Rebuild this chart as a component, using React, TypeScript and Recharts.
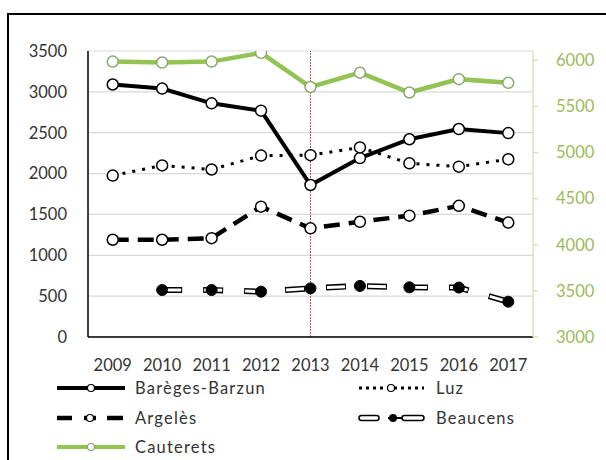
import React from 'react';
import {
  LineChart,
  Line,
  XAxis,
  YAxis,
  CartesianGrid,
  ReferenceLine
} from 'recharts';

const years = ['2009', '2010', '2011', '2012', '2013', '2014', '2015', '2016', '2017'];
const bareges = [3090, 3040, 2860, 2770, 1860, 2190, 2420, 2545, 2495];
const luz = [1975, 2100, 2050, 2220, 2225, 2320, 2125, 2085, 2175];
const argeles = [1190, 1190, 1210, 1595, 1330, 1410, 1485, 1605, 1400];
const beaucens = [null, 575, 575, 555, 595, 625, 608, 605, 432];
const cauterets = [5985, 5975, 5985, 6080, 5710, 5865, 5650, 5795, 5755];

const leftTicks = [0, 500, 1000, 1500, 2000, 2500, 3000, 3500];
const rightTicks = [3000, 3500, 4000, 4500, 5000, 5500, 6000];
// category boundaries, for Excel-style tick marks between the years
const boundaryTicks = years.map((_, i) => i).concat(years.length);

const data = years.map((year, i) => ({
  year,
  bareges: bareges[i],
  luz: luz[i],
  argeles: argeles[i],
  beaucens: beaucens[i],
  cauterets: cauterets[i]
}));

const FONT = 'Lato, "Open Sans", sans-serif';
const GREEN = '#92c353';

const LegendIcon: React.FC<{ kind: string }> = ({ kind }) => {
  const w = 68;
  const h = 14;
  const c = h / 2;
  let body: React.ReactNode = null;
  if (kind === 'bareges') {
    body = (
      <>
        <line x1={0} x2={w} y1={c} y2={c} stroke="#000" strokeWidth={4} />
        <circle cx={34} cy={c} r={3.5} fill="#fff" stroke="#000" strokeWidth={1.2} />
      </>
    );
  } else if (kind === 'argeles') {
    body = (
      <>
        <line x1={0} x2={15} y1={c} y2={c} stroke="#000" strokeWidth={4.5} />
        <line x1={50} x2={66} y1={c} y2={c} stroke="#000" strokeWidth={4.5} />
        <line x1={27} x2={39} y1={c} y2={c} stroke="#000" strokeWidth={4.5} />
        <circle cx={33} cy={c} r={3.5} fill="#fff" stroke="#000" strokeWidth={1.2} />
      </>
    );
  } else if (kind === 'cauterets') {
    body = (
      <>
        <line x1={0} x2={w} y1={c} y2={c} stroke={GREEN} strokeWidth={4} />
        <circle cx={34} cy={c} r={3.5} fill="#fff" stroke="#8aa86a" strokeWidth={1.2} />
      </>
    );
  } else if (kind === 'luz') {
    body = (
      <>
        <line x1={1} x2={66} y1={c} y2={c} stroke="#000" strokeWidth={3} strokeDasharray="3 4" />
        <circle cx={33} cy={c} r={3.5} fill="#fff" stroke="#000" strokeWidth={1.2} />
      </>
    );
  } else if (kind === 'beaucens') {
    body = (
      <>
        <rect x={1} y={c - 2.5} width={20} height={5} rx={2.5} fill="#fff" stroke="#000" strokeWidth={1.5} />
        <rect x={44} y={c - 2.5} width={22} height={5} rx={2.5} fill="#fff" stroke="#000" strokeWidth={1.5} />
        <line x1={30} x2={44} y1={c} y2={c} stroke="#000" strokeWidth={2} />
        <circle cx={35} cy={c} r={4} fill="#000" />
      </>
    );
  }
  return (
    <svg width={w} height={h} style={{ display: 'block' }}>
      {body}
    </svg>
  );
};

const legendItems = [
  { kind: 'bareges', label: 'Barèges-Barzun', left: 57, top: 388 },
  { kind: 'luz', label: 'Luz', left: 358, top: 388 },
  { kind: 'argeles', label: 'Argelès', left: 57, top: 418 },
  { kind: 'beaucens', label: 'Beaucens', left: 358, top: 418 },
  { kind: 'cauterets', label: 'Cauterets', left: 57, top: 447 }
];

export default function App() {
  return (
    <div style={{ position: 'absolute', left: 0, top: 0, width: 606, height: 460, background: '#fff', overflow: 'hidden' }}>
      <div
        style={{
          position: 'absolute',
          left: 7,
          top: 13,
          width: 620,
          height: 470,
          borderLeft: '2px solid #000',
          borderTop: '2px solid #000'
        }}
      />
      <LineChart width={606} height={460} data={data} margin={{ top: 51, right: 0, bottom: 93, left: 0 }}>
        <CartesianGrid yAxisId="left" vertical={false} stroke="#d9d9d9" strokeWidth={1.2} />
        <XAxis
          xAxisId="bounds"
          type="number"
          domain={[0, years.length]}
          ticks={boundaryTicks}
          interval={0}
          height={0}
          axisLine={false}
          tick={false}
          tickSize={7}
          tickLine={{ stroke: '#000', strokeWidth: 2 }}
        />
        <XAxis
          dataKey="year"
          scale="band"
          height={30}
          axisLine={{ stroke: '#000', strokeWidth: 1.5 }}
          tickLine={false}
          tickSize={7}
          tickMargin={15}
          interval={0}
          tick={{ fill: '#333', fontSize: 16.5, fontFamily: FONT }}
        />
        <YAxis
          yAxisId="left"
          width={88}
          domain={[0, 3500]}
          ticks={leftTicks}
          interval={0}
          axisLine={{ stroke: '#000', strokeWidth: 1.5 }}
          tickLine={false}
          tickMargin={15}
          tick={{ fill: '#333', fontSize: 16.5, fontFamily: FONT }}
        />
        <YAxis
          yAxisId="right"
          orientation="right"
          width={73}
          domain={[3000, 6100]}
          ticks={rightTicks}
          interval={0}
          allowDataOverflow
          axisLine={{ stroke: '#cfdcb8', strokeWidth: 1.2 }}
          tickLine={{ stroke: '#cfdcb8', strokeWidth: 1.2 }}
          tickSize={5}
          tickMargin={18}
          tick={{ fill: '#9bbb59', fontSize: 16.5, fontFamily: FONT }}
        />
        <Line
          yAxisId="left"
          dataKey="bareges"
          stroke="#000"
          strokeWidth={4}
          dot={{ r: 5.5, fill: '#fff', stroke: '#000', strokeWidth: 1.5, strokeDasharray: 'none' }}
          isAnimationActive={false}
        />
        <Line
          yAxisId="left"
          dataKey="luz"
          stroke="#000"
          strokeWidth={3}
          strokeDasharray="3 7"
          dot={{ r: 5.5, fill: '#fff', stroke: '#000', strokeWidth: 1.5, strokeDasharray: 'none' }}
          isAnimationActive={false}
        />
        <Line
          yAxisId="left"
          dataKey="argeles"
          stroke="#000"
          strokeWidth={4.5}
          strokeDasharray="16 9"
          dot={{ r: 5.5, fill: '#fff', stroke: '#000', strokeWidth: 1.5, strokeDasharray: 'none' }}
          isAnimationActive={false}
        />
        <Line
          yAxisId="left"
          dataKey="beaucens"
          stroke="#000"
          strokeWidth={6}
          strokeDasharray="20 21"
          dot={false}
          isAnimationActive={false}
        />
        <Line
          yAxisId="left"
          dataKey="beaucens"
          stroke="#fff"
          strokeWidth={3}
          strokeDasharray="18 23"
          strokeDashoffset={-1}
          dot={{ r: 5.5, fill: '#000', stroke: '#000', strokeWidth: 1, strokeDasharray: 'none' }}
          isAnimationActive={false}
        />
        <Line
          yAxisId="right"
          dataKey="cauterets"
          stroke={GREEN}
          strokeWidth={4.5}
          dot={{ r: 5.5, fill: '#fff', stroke: '#8aa86a', strokeWidth: 1.5, strokeDasharray: 'none' }}
          isAnimationActive={false}
        />
        <ReferenceLine
          yAxisId="left"
          x="2013"
          stroke="#c0504d"
          strokeWidth={1}
          strokeDasharray="2 1"
        />
      </LineChart>
      {legendItems.map((item) => (
        <div
          key={item.kind}
          style={{
            position: 'absolute',
            left: item.left,
            top: item.top - 11,
            height: 22,
            display: 'flex',
            alignItems: 'center',
            gap: 10,
            fontFamily: FONT,
            fontSize: 16.5,
            letterSpacing: 1.2,
            color: '#333',
            whiteSpace: 'nowrap'
          }}
        >
          <LegendIcon kind={item.kind} />
          <span>{item.label}</span>
        </div>
      ))}
    </div>
  );
}
